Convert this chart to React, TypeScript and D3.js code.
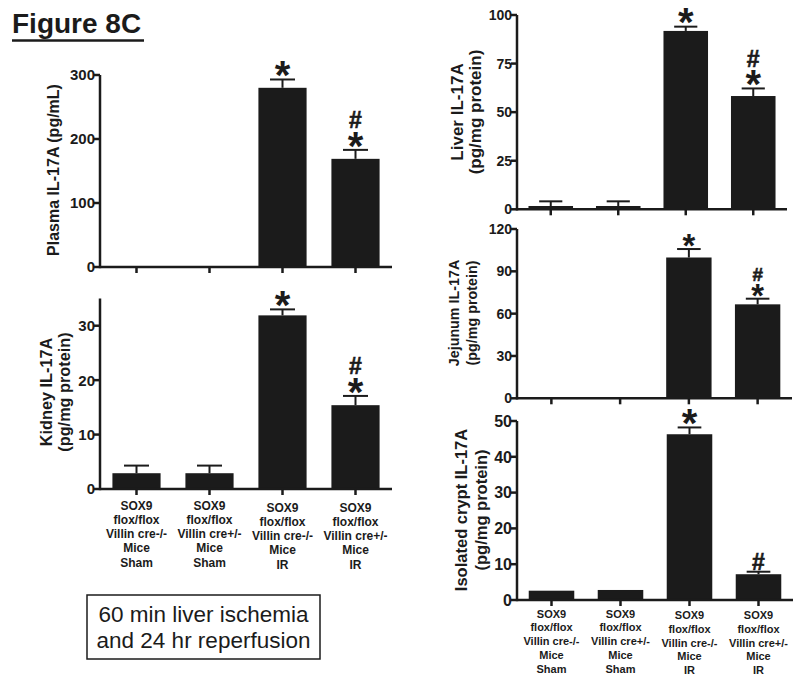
import React from "react";
import * as d3 from "d3";

const FONT = "'Liberation Sans', Arial, Helvetica, sans-serif";
const INK = "#1b1b1b";

const groupLabels = [
  ["SOX9", "flox/flox", "Villin cre-/-", "Mice", "Sham"],
  ["SOX9", "flox/flox", "Villin cre+/-", "Mice", "Sham"],
  ["SOX9", "flox/flox", "Villin cre-/-", "Mice", "IR"],
  ["SOX9", "flox/flox", "Villin cre+/-", "Mice", "IR"],
];

const plasmaMean = [0, 0, 280, 169];
const plasmaSem = [0, 0, 13, 14];
const plasmaTicks = [0, 100, 200, 300];
const plasmaMarks = ["", "", "*", "#*"];

const kidneyMean = [2.9, 2.9, 31.9, 15.4];
const kidneySem = [1.4, 1.4, 1.1, 1.7];
const kidneyTicks = [0, 10, 20, 30];
const kidneyMarks = ["", "", "*", "#*"];

const liverMean = [1.7, 1.7, 91.8, 58.3];
const liverSem = [2.4, 2.4, 2.2, 3.9];
const liverTicks = [0, 25, 50, 75, 100];
const liverMarks = ["", "", "*", "#*"];

const jejunumMean = [0, 0, 99.8, 66.6];
const jejunumSem = [0, 0, 6.0, 4.0];
const jejunumTicks = [0, 30, 60, 90, 120];
const jejunumMarks = ["", "", "*", "#*"];

const cryptMean = [2.6, 2.8, 46.3, 7.2];
const cryptSem = [0, 0, 1.9, 0.7];
const cryptTicks = [0, 10, 20, 30, 40, 50];
const cryptMarks = ["", "", "*", "#"];

const titleText = "Figure 8C";
const noteLines = ["60 min liver ischemia", "and 24 hr reperfusion"];

type PanelProps = {
  mean: number[];
  sem: number[];
  ticks: number[];
  marks: string[];
  domainMax: number;
  x0: number;
  x1: number;
  yBottom: number;
  yTop: number;
  labelLines: string[];
  labelX: number[];
  labelCY: number;
  labelSize: number;
  tickSize: number;
  markScale?: number;
  xLabels?: boolean;
  xLabelY0?: number;
  xLabelStep?: number;
  xLabelSize?: number;
  xLabelShift?: number[];
};

function Panel(p: PanelProps) {
  const idx = p.mean.map((_, i) => i);
  const x = d3.scaleBand<number>().domain(idx).range([p.x0, p.x1]).paddingInner(0.34).paddingOuter(0.17);
  const y = d3.scaleLinear().domain([0, p.domainMax]).range([p.yBottom, p.yTop]);
  const bw = x.bandwidth();
  const ms = p.markScale ?? 1;
  const starSize = 40 * ms;
  const hashSize = 23 * ms;
  return (
    <g>
      {idx.map((i) => {
        const cx = (x(i) as number) + bw / 2;
        const top = y(p.mean[i]);
        const capY = y(p.mean[i] + p.sem[i]);
        const capW = bw * 0.52;
        const glyphs = p.marks[i].split("").reverse();
        return (
          <g key={i}>
            {p.mean[i] > 0 && (
              <rect x={x(i)} y={top} width={bw} height={y(0) - top} fill={INK} />
            )}
            {p.sem[i] > 0 && (
              <g stroke={INK} strokeWidth={2}>
                <line x1={cx} x2={cx} y1={top} y2={capY} />
                <line x1={cx - capW / 2} x2={cx + capW / 2} y1={capY} y2={capY} />
              </g>
            )}
            {glyphs.length > 0 && (
              <text textAnchor="middle" fontFamily={FONT} fontWeight="bold" fill={INK}>
                {glyphs.map((g, k) => {
                  const center = capY - (g === "*" ? 9.5 : 10) * ms - k * 19.5 * ms;
                  const size = g === "*" ? starSize : hashSize;
                  const base = g === "*" ? center + 0.48 * size : center + 0.35 * size;
                  return (
                    <tspan key={k} x={cx} y={base} fontSize={size} stroke={g === "#" ? INK : "none"} strokeWidth={g === "#" ? 0.6 : 0}>
                      {g}
                    </tspan>
                  );
                })}
              </text>
            )}
          </g>
        );
      })}
      <g stroke={INK} strokeWidth={2.5} fill="none">
        <line x1={p.x0} x2={p.x0} y1={y(0) + 1.2} y2={y(p.domainMax)} />
        <line x1={p.x0} x2={p.x1} y1={y(0)} y2={y(0)} />
        {p.ticks.map((t) => (
          <line key={"yt" + t} x1={p.x0 - 6} x2={p.x0} y1={y(t)} y2={y(t)} />
        ))}
        {idx.map((i) => {
          const cx = (x(i) as number) + bw / 2;
          return <line key={"xt" + i} x1={cx} x2={cx} y1={y(0)} y2={y(0) + 6} />;
        })}
      </g>
      {p.ticks.map((t) => (
        <text key={"yl" + t} x={p.x0 - 5} y={y(t) + p.tickSize * 0.36} textAnchor="end" fontFamily={FONT} fontWeight="bold" fontSize={p.tickSize} fill={INK}>
          {t}
        </text>
      ))}
      {p.labelLines.map((ln, k) => (
        <text
          key={"lab" + k}
          transform={`translate(${p.labelX[k]},${p.labelCY}) rotate(-90)`}
          textAnchor="middle"
          dominantBaseline="central"
          fontFamily={FONT}
          fontWeight="bold"
          fontSize={p.labelSize}
          fill={INK}
        >
          {ln}
        </text>
      ))}
      {p.xLabels &&
        idx.map((i) => {
          const cx = (x(i) as number) + bw / 2;
          const shift = p.xLabelShift ? p.xLabelShift[i] : 0;
          return (
            <g key={"xl" + i}>
              {groupLabels[i].map((ln, k) => (
                <text
                  key={k}
                  x={cx}
                  y={(p.xLabelY0 as number) + shift + k * (p.xLabelStep as number)}
                  textAnchor="middle"
                  fontFamily={FONT}
                  fontWeight="bold"
                  fontSize={p.xLabelSize}
                  fill={INK}
                >
                  {ln}
                </text>
              ))}
            </g>
          );
        })}
    </g>
  );
}

export default function App() {
  return (
    <svg width={800} height={680} style={{ position: "absolute", left: 0, top: 0, background: "#fff" }}>
      <rect x={0} y={0} width={800} height={680} fill="#fff" />
      <text x={12} y={33} fontFamily={FONT} fontWeight="bold" fontSize={28} fill={INK}>
        {titleText}
      </text>
      <line x1={12} x2={144} y1={40.5} y2={40.5} stroke={INK} strokeWidth={2.5} />

      <Panel
        mean={plasmaMean} sem={plasmaSem} ticks={plasmaTicks} marks={plasmaMarks}
        domainMax={300} x0={100} x1={392} yBottom={267} yTop={75}
        labelLines={["Plasma IL-17A (pg/mL)"]} labelX={[53]} labelCY={170} labelSize={16} tickSize={15}
      />
      <Panel
        mean={kidneyMean} sem={kidneySem} ticks={kidneyTicks} marks={kidneyMarks}
        domainMax={35} x0={100} x1={392} yBottom={489} yTop={298.5}
        labelLines={["Kidney IL-17A", "(pg/mg protein)"]} labelX={[46, 64]} labelCY={392} labelSize={16.3} tickSize={15}
        xLabels xLabelY0={509.5} xLabelStep={14.3} xLabelSize={12} xLabelShift={[0, 0, 2, 2]}
      />
      <Panel
        mean={liverMean} sem={liverSem} ticks={liverTicks} marks={liverMarks}
        domainMax={100} x0={517} x1={787} yBottom={209.3} yTop={15}
        labelLines={["Liver IL-17A", "(pg/mg protein)"]} labelX={[457.5, 475.5]} labelCY={112} labelSize={17} tickSize={14}
      />
      <Panel
        mean={jejunumMean} sem={jejunumSem} ticks={jejunumTicks} marks={jejunumMarks}
        domainMax={120} x0={517} x1={792} yBottom={398.3} yTop={229}
        labelLines={["Jejunum IL-17A", "(pg/mg protein)"]} labelX={[454, 472]} labelCY={313} labelSize={14.3} tickSize={14}
        markScale={0.82}
      />
      <Panel
        mean={cryptMean} sem={cryptSem} ticks={cryptTicks} marks={cryptMarks}
        domainMax={50} x0={517} x1={793} yBottom={600} yTop={421}
        labelLines={["Isolated crypt IL-17A", "(pg/mg protein)"]} labelX={[461, 480.5]} labelCY={510} labelSize={16.5} tickSize={16}
        xLabels xLabelY0={617.5} xLabelStep={13.8} xLabelSize={11} xLabelShift={[0, 0, 1.5, 1.5]}
      />

      <rect x={87} y={595} width={233} height={64} fill="none" stroke={INK} strokeWidth={1.5} />
      {noteLines.map((ln, k) => (
        <text key={k} x={203.5} y={621.7 + k * 26.6} textAnchor="middle" fontFamily={FONT} fontSize={22.5} fill={INK}>
          {ln}
        </text>
      ))}
    </svg>
  );
}
